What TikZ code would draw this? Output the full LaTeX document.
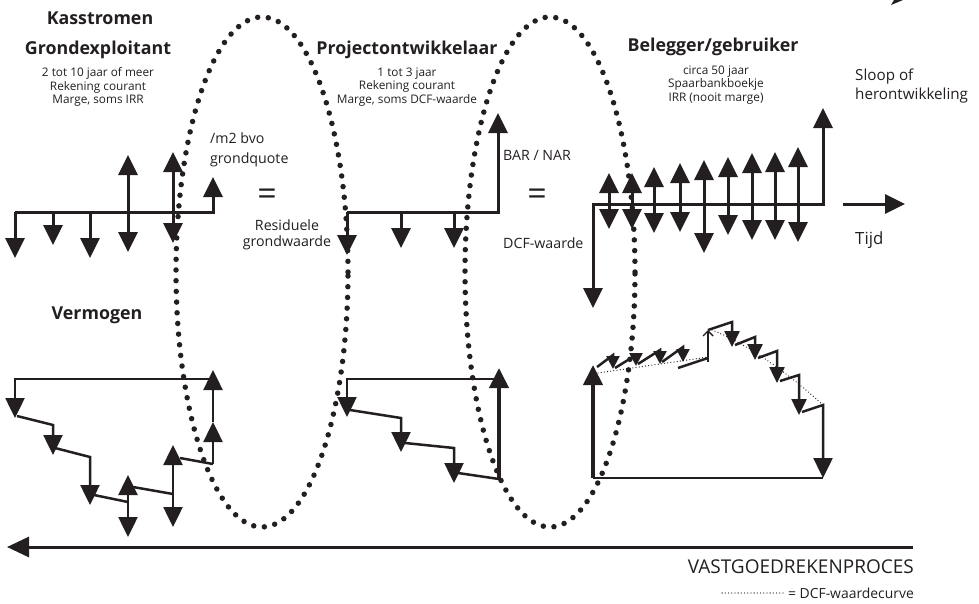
\documentclass[tikz,border=0pt]{standalone}
\usepackage{fontspec}
\setmainfont{Open Sans}
\usetikzlibrary{arrows.meta}
\definecolor{ink}{RGB}{35,31,32}

\begin{document}
\begin{tikzpicture}[x=1pt,y=-1pt,
    lijn/.style={line width=3pt,color=ink},
    dun/.style={line width=2.5pt,color=ink},
    pijl/.style={-{Triangle[length=20pt,width=19pt]}},
    dpijl/.style={{Triangle[length=20pt,width=19pt]}-{Triangle[length=20pt,width=19pt]}},
    kpijl/.style={-{Triangle[length=13pt,width=13pt]}},
    mpijl/.style={-{Triangle[length=16pt,width=15pt]}},
    ovaal/.style={line width=5.5pt,line cap=round,dash pattern=on 0pt off 10.7pt,color=ink},
    dcfcurve/.style={line width=1.3pt,line cap=round,dash pattern=on 0pt off 3.2pt,color=ink},
    titel/.style={font=\fontsize{17.8}{21}\selectfont\bfseries,text=ink,inner sep=0pt},
    info/.style={font=\fontsize{11.8}{13.5}\selectfont,text=ink,align=center,inner sep=0pt},
    tekst/.style={font=\fontsize{14.2}{16}\selectfont,text=ink,inner sep=0pt},
    gelijk/.style={font=\fontsize{34}{34}\selectfont,text=ink,inner sep=0pt}]
\useasboundingbox (0,0) rectangle (979,603);

% titels
\node[titel] (kass) at (100,18) {Kasstromen};
\node[titel] (grond) at (98,50) {Grondexploitant};
\node[info] (grondinfo) at (98,87) {2 tot 10 jaar of meer\\Rekening courant\\Marge, soms IRR};
\node[titel] (project) at (407,50) {Projectontwikkelaar};
\node[info] (projectinfo) at (407,87) {1 tot 3 jaar\\Rekening courant\\Marge, soms DCF-waarde};
\node[titel] (belegger) at (713,47) {Belegger/gebruiker};
\node[info] (beleggerinfo) at (716,85) {circa 50 jaar\\Spaarbankboekje\\IRR (nooit marge)};
\node[titel] (vermogen) at (97,315) {Vermogen};

% labels
\node[tekst,font=\fontsize{14.2}{20}\selectfont,anchor=west,align=left] (quote) at (210,150) {/m2 bvo\\grondquote};
\node[tekst,align=center] (resid) at (287,235) {Residuele\\grondwaarde};
\node[tekst,anchor=west] (barnar) at (503,155) {BAR / NAR};
\node[tekst,anchor=west] (dcf) at (503,243) {DCF-waarde};
\node[tekst,font=\fontsize{15.2}{19}\selectfont,anchor=west,align=left] (sloop) at (855,86) {Sloop of\\herontwikkeling};
\node[tekst,font=\fontsize{16.8}{18}\selectfont,anchor=west] (tijd) at (855,240) {Tijd};
\node[gelijk] (eq1) at (267,197) {=};
\node[gelijk] (eq2) at (537,197) {=};
\node[tekst,font=\fontsize{19}{22}\selectfont,anchor=east] (proces) at (914,567) {VASTGOEDREKENPROCES};
\node[tekst,font=\fontsize{13.9}{15}\selectfont,anchor=east] (legenda) at (914,593) {= DCF-waardecurve};
\draw[dcfcurve] ([xshift=-5pt]legenda.west) -- ++(-62,0);

% kasstromen grondexploitant
\draw[lijn,pijl] (15,212) -- (213,212) -- (213,177);
\foreach \x/\d in {15/258,53/245,90/258}
  \draw[lijn,pijl] (\x,212) -- (\x,\d);
\draw[lijn,dpijl] (128,252) -- (128,155);
\draw[lijn,dpijl] (173,243) -- (173,152);

% kasstromen projectontwikkelaar
\draw[lijn,pijl] (347,212) -- (498,212) -- (498,113);
\foreach \x/\d in {347/255,401/248,454/248}
  \draw[lijn,pijl] (\x,212) -- (\x,\d);

% kasstromen belegger
\draw[lijn,dpijl] (593,308) -- (593,204) -- (823,204) -- (823,108);
\foreach \x/\u/\d in {609/173/229,632/173/229,654/167/233,680/163/232,704/160/253,
                      728/157/235,752/153/240,775/152/240,798/147/242}
  \draw[lijn,dpijl] (\x,\d) -- (\x,\u);
\draw[lijn,pijl] (843,204) -- (905,204);
\fill[ink] (891,5) -- (903,0) -- (894,0) -- cycle;

% vermogen grondexploitant
\draw[dun,pijl] (213,379) -- (15,379) -- (15,418);
\foreach \a/\b/\c/\d/\e in {17/416/53/425/455,55/448/90/457/505}
  \draw[dun,pijl] (\a,\b) -- (\c,\d) -- (\c,\e);
\draw[dun] (94,495) -- (128,502);
\draw[dun,dpijl] (128,537) -- (128,475);
\draw[dun] (133,487) -- (173,494);
\draw[dun,dpijl] (173,527) -- (173,445);
\draw[dun] (180,458) -- (213,464);
\draw[dun,pijl] (213,464) -- (213,422);
\draw[dun,pijl] (213,422) -- (213,370);

% vermogen projectontwikkelaar
\draw[dun,pijl] (499,379) -- (347,379) -- (347,417);
\foreach \a/\b/\c/\d/\e in {350/410/401/418/452,405/443/454/448/483}
  \draw[dun,pijl] (\a,\b) -- (\c,\d) -- (\c,\e);
\draw[dun] (458,473) -- (499,479);
\draw[line width=4pt,ink,pijl] (499,479) -- (499,368);

% vermogen belegger
\draw[line width=4pt,ink,pijl] (593,478) -- (593,365);
\draw[dun] (593,478) -- (823,478);
\foreach \a/\b/\c/\d/\e in {597/367/613/355/369,615/368/636/355/366,638/364/660/350/364,662/362/683/347/362}
  \draw[dun,kpijl] (\a,\b) -- (\c,\d) -- (\c,\e);
\draw[dun] (678,368) -- (708,358);
\draw[line width=1.4pt,ink,-{Straight Barb[length=5pt,width=10pt]}] (708,362) -- (708,330);
\foreach \a/\b/\c/\d/\e in {708/330/732/322/347,735/345/755/337/360,758/358/777/351/383,780/381/799/375/415}
  \draw[dun,mpijl] (\a,\b) -- (\c,\d) -- (\c,\e);
\draw[dun,pijl] (802,412) -- (823,405) -- (823,478);
\draw[dcfcurve] (598,373) -- (708,357);
\draw[dcfcurve] (712,330) .. controls (750,345) and (790,375) .. (823,405);

% vastgoedrekenproces
\draw[lijn,-{Triangle[length=22pt,width=20pt]}] (913,547) -- (7,547);

% ovalen
\draw[ovaal] (262,272) ellipse [x radius=86pt,y radius=255pt];
\draw[ovaal] (550,272) ellipse [x radius=85pt,y radius=255pt];
\end{tikzpicture}
\end{document}
